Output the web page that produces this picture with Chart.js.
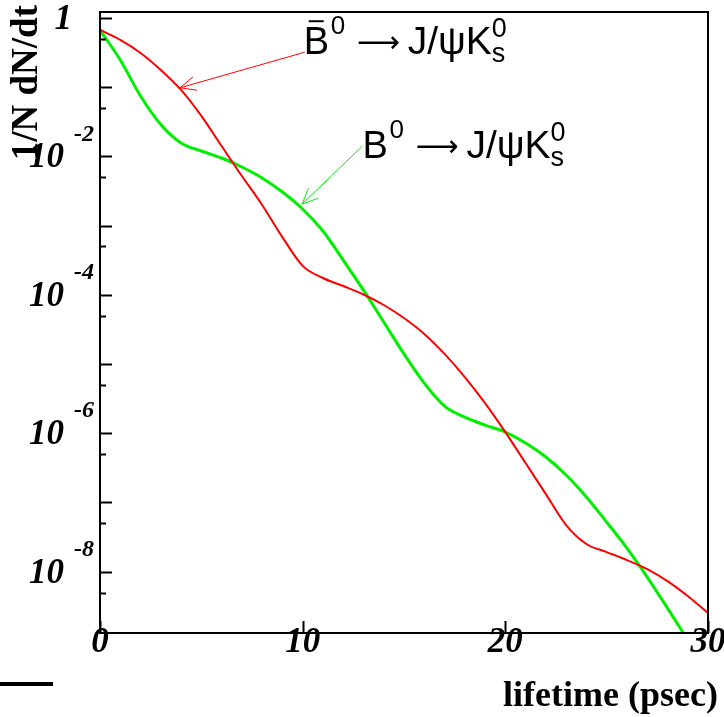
<!DOCTYPE html>
<html>
<head>
<meta charset="utf-8">
<script src="https://cdn.jsdelivr.net/npm/chart.js@4.4.1/dist/chart.umd.min.js"></script>
<style>
  html, body { margin: 0; padding: 0; background: #fff; }
  #canvas { display: block; }
</style>
</head>
<body>
<canvas id="canvas" width="724" height="717"></canvas>
<script>
// lifetime (psec)
const times = [0, 1, 2, 3, 4, 5, 6, 7, 8, 9, 10, 11, 12, 13, 14, 15, 16, 17, 18, 19, 20,
  21, 22, 23, 24, 25, 26, 27, 28, 29, 30]

// Bbar0 -> J/psi Ks (red)
const bbarRate = [0.671, 0.481, 0.312, 0.1774, 0.0912, 0.0384, 0.01413, 5.21e-3, 1.99e-3, 6.83e-4,
  2.62e-4, 1.75e-4, 1.34e-4, 1.01e-4, 7.13e-5, 4.62e-5, 2.72e-5, 1.40e-5, 6.49e-6, 2.73e-6,
  1.04e-6, 3.71e-7, 1.32e-7, 4.71e-8, 2.51e-8, 1.92e-8, 1.47e-8, 1.09e-8, 7.31e-9, 4.44e-9, 2.52e-9]

// B0 -> J/psi Ks (green), runs off the bottom before t = 30
const bRate = [0.671, 0.247, 0.0746, 0.0289, 0.01563, 0.01197, 9.48e-3, 7.03e-3, 4.88e-3, 3.06e-3,
  1.74e-3, 8.36e-4, 3.18e-4, 1.17e-4, 4.05e-5, 1.40e-5, 5.31e-6, 2.47e-6, 1.71e-6, 1.31e-6,
  1.04e-6, 7.21e-7, 4.53e-7, 2.49e-7, 1.20e-7, 5.21e-8, 2.19e-8, 8.36e-9, 2.98e-9, 1.03e-9]

const xTicks = [0, 10, 20, 30]
const yDecades = [1, 1e-1, 1e-2, 1e-3, 1e-4, 1e-5, 1e-6, 1e-7, 1e-8]
const yHalves = [5e-1, 5e-2, 5e-3, 5e-4, 5e-5, 5e-6, 5e-7, 5e-8, 5e-9]
const yLabelPowers = [0, -2, -4, -6, -8]

const serif = '"Liberation Serif", "DejaVu Serif", serif'
const sans = '"Liberation Sans", Arial, sans-serif'

function arrow(ctx, x0, y0, x1, y1, color) {
  const ang = Math.atan2(y1 - y0, x1 - x0)
  const len = 17, spread = 0.42
  ctx.strokeStyle = color
  ctx.lineWidth = 1
  ctx.beginPath()
  ctx.moveTo(x0, y0)
  ctx.lineTo(x1, y1)
  ctx.moveTo(x1 - len * Math.cos(ang - spread), y1 - len * Math.sin(ang - spread))
  ctx.lineTo(x1, y1)
  ctx.lineTo(x1 - len * Math.cos(ang + spread), y1 - len * Math.sin(ang + spread))
  ctx.stroke()
}

// pieces sit at fixed offsets from the B, as in the original latex layout
function decayLabel(ctx, x, base, bar) {
  ctx.fillStyle = '#000'
  ctx.textAlign = 'left'
  ctx.textBaseline = 'alphabetic'
  ctx.font = '38px ' + sans
  ctx.fillText('B', x, base)
  if (bar) {
    ctx.strokeStyle = '#000'
    ctx.lineWidth = 2
    ctx.beginPath()
    ctx.moveTo(x + 5, base - 33)
    ctx.lineTo(x + 20, base - 33)
    ctx.stroke()
  }
  ctx.font = '26px ' + sans
  ctx.fillText('0', x + 27, base - 20)
  ctx.font = '30px "DejaVu Sans", ' + sans
  ctx.fillText('\u27f6', x + 53, base - 2)
  ctx.font = '39px ' + sans
  ctx.fillText('J/\u03c8K', x + 104, base)
  const kEnd = x + 104 + ctx.measureText('J/\u03c8K').width
  ctx.font = '27px ' + sans
  ctx.fillText('s', kEnd, base + 8)
  ctx.fillText('0', kEnd, base - 17)
}

const decorations = {
  id: 'decorations',
  afterDraw(chart) {
    const ctx = chart.ctx
    const a = chart.chartArea
    const xs = chart.scales.x
    const ys = chart.scales.y
    ctx.save()

    // frame
    ctx.strokeStyle = '#000'
    ctx.lineWidth = 2
    ctx.strokeRect(a.left, a.top, a.right - a.left, a.bottom - a.top)

    // y ticks, inside the frame
    ctx.beginPath()
    yDecades.forEach(v => {
      const y = Math.round(ys.getPixelForValue(v)) + 0.5
      ctx.moveTo(a.left, y)
      ctx.lineTo(a.left + 12, y)
    })
    yHalves.forEach(v => {
      const y = Math.round(ys.getPixelForValue(v)) + 0.5
      if (y > a.top && y < a.bottom) {
        ctx.moveTo(a.left, y)
        ctx.lineTo(a.left + 6, y)
      }
    })
    // x ticks
    xTicks.forEach(v => {
      const x = Math.round(xs.getPixelForValue(v)) + 0.5
      ctx.moveTo(x, a.bottom)
      ctx.lineTo(x, a.bottom - 12)
    })
    ctx.stroke()

    // y labels
    ctx.fillStyle = '#000'
    ctx.textBaseline = 'middle'
    yLabelPowers.forEach(p => {
      const y = ys.getPixelForValue(Math.pow(10, p))
      ctx.font = 'italic bold 35px ' + serif
      ctx.textAlign = 'right'
      if (p === 0) {
        ctx.fillText('1', 72, y + 2)
      } else {
        ctx.fillText('10', 64, y + 2)
        ctx.font = 'italic bold 24px ' + serif
        ctx.textAlign = 'left'
        ctx.fillText(String(p), 74, y - 22)
      }
    })

    // x labels
    ctx.font = 'italic bold 35px ' + serif
    ctx.textAlign = 'center'
    xTicks.forEach(v => {
      ctx.fillText(String(v), xs.getPixelForValue(v), a.bottom + 10)
    })

    // axis titles
    ctx.font = 'bold 36px ' + serif
    ctx.textAlign = 'right'
    ctx.textBaseline = 'alphabetic'
    ctx.fillText('lifetime (psec)', 718, 706)

    ctx.save()
    ctx.font = 'bold 37px ' + serif
    ctx.translate(37, 5)
    ctx.rotate(-Math.PI / 2)
    ctx.textAlign = 'right'
    ctx.fillText('1/N dN/dt', 0, 0)
    ctx.restore()

    // short bar bottom left
    ctx.fillRect(0, 682, 53, 4)

    // annotations with arrows
    const rx0 = xs.getPixelForValue(10.1), ry0 = ys.getPixelForValue(0.32)
    const rx1 = xs.getPixelForValue(3.95), ry1 = ys.getPixelForValue(0.098)
    arrow(ctx, rx0, ry0, rx1, ry1, '#ff0000')
    const gx0 = xs.getPixelForValue(12.95), gy0 = ys.getPixelForValue(0.0141)
    const gx1 = xs.getPixelForValue(9.97), gy1 = ys.getPixelForValue(2.05e-3)
    arrow(ctx, gx0, gy0, gx1, gy1, '#00ee00')

    decayLabel(ctx, rx0 - 1, ry0 + 2, true)
    decayLabel(ctx, gx0, gy0 + 12, false)

    ctx.restore()
  }
}

const data = {
  datasets: [
    {
      label: 'Bbar0',
      data: times.map((t, i) => ({ x: t, y: bbarRate[i] })),
      borderColor: '#ff0000',
      borderWidth: 2,
      pointRadius: 0,
      cubicInterpolationMode: 'monotone',
    },
    {
      label: 'B0',
      data: bRate.map((v, i) => ({ x: times[i], y: v })),
      borderColor: '#00ee00',
      borderWidth: 3,
      pointRadius: 0,
      cubicInterpolationMode: 'monotone',
    },
  ],
}

const config = {
  type: 'line',
  data: data,
  options: {
    responsive: false,
    animation: false,
    devicePixelRatio: 1,
    layout: { padding: { left: 100, right: 16, top: 12, bottom: 84 } },
    plugins: { legend: { display: false }, tooltip: { enabled: false } },
    scales: {
      x: { type: 'linear', min: 0, max: 30, display: false },
      y: { type: 'logarithmic', min: 1.3e-9, max: 1.22, display: false },
    },
  },
  plugins: [decorations],
}

const canvas = document.getElementById('canvas')
const chart = new Chart(canvas, config)
</script>
</body>
</html>
